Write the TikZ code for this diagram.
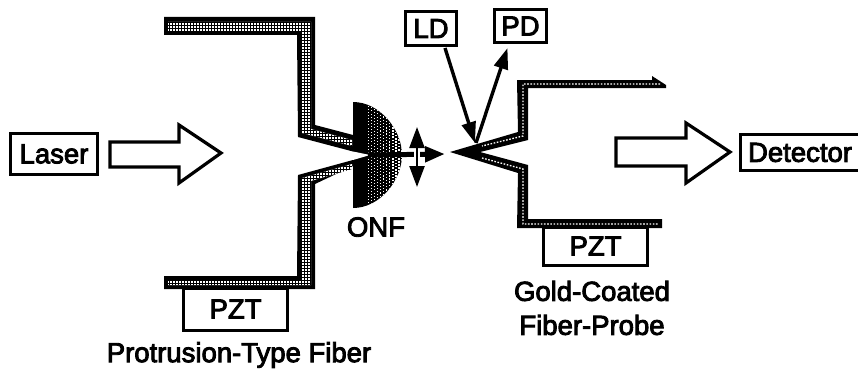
\documentclass[tikz,border=0pt]{standalone}
\usepackage{fontspec}
\setmainfont{Liberation Sans}[RawFeature={embolden=3.2}]
\usetikzlibrary{arrows.meta}
\tikzset{
 x=1pt,y=-1pt,
 box/.style={draw=black,line width=3pt,fill=white,inner sep=0pt,font=\fontsize{27.5}{27.5}\selectfont,text=black},
 lbl/.style={inner sep=0pt,font=\fontsize{27.5}{27.5}\selectfont,text=black},
 bigarrow/.style={draw=black,line width=3.2pt,fill=white,line join=miter},
 wall/.style={fill=black},
 thin arrow/.style={draw=black,line width=3.4pt,-{Triangle[length=21pt,width=14pt]}}
}
\begin{document}
\begin{tikzpicture}
\useasboundingbox (0,0) rectangle (858,369);
% PZT behind the walls
\node[box,minimum width=104pt,minimum height=42pt] (pztl) at (235.5,309) {PZT};
\node[box,minimum width=104pt,minimum height=38pt] (pztr) at (595.5,246) {PZT};
% lens
\begin{scope}
 \clip (353,102) .. controls (380,102) and (402,130) .. (402,155) .. controls (402,180) and (380,208) .. (353,208) -- cycle;
 \fill[black] (353,100) rectangle (405,210);
 \foreach \i in {0,...,12}{
  \foreach \j in {0,...,36}{
   \pgfmathsetmacro{\xx}{368+\i*3.1}
   \pgfmathsetmacro{\yy}{100+\j*3.1+mod(\i,2)*1.55}
   \pgfmathsetmacro{\ss}{0.35+\i*0.055}
   \fill[white] (\xx-\ss,\yy-\ss) rectangle (\xx+\ss,\yy+\ss);
  }
 }
\end{scope}
% left fiber walls
\fill[wall] (164,17)--(315,17)--(315,125)--(353,135)--(370,155)--(353,151.5)--(298,137)--(297,35)--(164,35)--cycle;
\fill[wall] (164,276)--(297,276)--(298,175)--(353,160)--(370,155)--(353,166)--(315,184)--(315,289)--(164,289)--cycle;
\fill[white] (353,151.5)--(370,155)--(353,160)--cycle;
% hatched core
\def\hatch{\foreach \i in {0,...,68}{\draw[black,line width=.8pt] (160+\i*3,10)--(160+\i*3,300);}
 \foreach \j in {0,...,97}{\draw[black,line width=.8pt] (160,10+\j*3)--(360,10+\j*3);}}
\begin{scope}
 \clip (168,22)--(311,22)--(311,129)--(352,140)--(352,146)--(302,133)--(302,31)--(168,31)--cycle;
 \fill[white] (160,10) rectangle (360,300);
 \hatch
\end{scope}
\begin{scope}
 \clip (168,280)--(302,280)--(302,178)--(352,164)--(352,169)--(311,181)--(311,285)--(168,285)--cycle;
 \fill[white] (160,10) rectangle (360,300);
 \hatch
\end{scope}
% right probe
\fill[wall] (450,152)--(518,132)--(517,80)--(652,80)--(652,76)--(666,85)--(666,88)--(528,88)--(528,140)--(480,152)--(528,165)--(528,219)--(662,219)--(662,228)--(517,228)--(518,173)--cycle;
\draw[white,line width=1.3pt,dash pattern=on 1.6pt off 1.6pt] (660,84)--(523,84)--(523,136)--(482,146);
\draw[white,line width=1.3pt,dash pattern=on 1.6pt off 1.6pt] (482,158)--(523,169)--(523,224)--(658,224);
% focus arrows
\coordinate (hs) at (368,155);
\coordinate (he) at (445,154);
\coordinate (vt) at (417,127);
\coordinate (vb) at (417,187);
\draw[line width=5pt,-{Triangle[length=20pt,width=15pt]},draw=black] (hs)--(he);
\draw[white,line width=6pt] (417,151)--(417,159);
\draw[line width=2.4pt,{Triangle[length=21pt,width=15pt]}-{Triangle[length=21pt,width=15pt]}] (vt)--(vb);
% boxes
\node[box,minimum width=87pt,minimum height=41pt] (laser) at (54,154) {Laser};
\node[box,minimum width=119.5pt,minimum height=36pt] (det) at (800,152.5) {Detector};
\node[box,minimum width=51pt,minimum height=34pt] (ld) at (431,28.5) {LD};
\node[box,minimum width=52pt,minimum height=33pt] (pd) at (520.5,26) {PD};
\coordinate (tipin) at (475,143);
\coordinate (tipout) at (476,143);
\draw[thin arrow] ([xshift=14pt,yshift=-1pt]ld.south) -- (tipin);
\draw[thin arrow] (tipout) -- ([xshift=-13pt,yshift=-4pt]pd.south);
% big arrows
\draw[bigarrow] (110,142)--(179,142)--(179,125)--(221,153)--(179,183)--(179,167)--(110,167)--cycle;
\draw[bigarrow] (616,138)--(686,138)--(686,123)--(730,152)--(686,183)--(686,166)--(616,166)--cycle;
% labels
\node[lbl] (onf) at (376,227) {ONF};
\node[lbl] (prot) at (239,355) {Protrusion-Type Fiber};
\node[lbl] (gold) at (592,291) {Gold-Coated};
\node[lbl] (fpr) at (592,325) {Fiber-Probe};
\end{tikzpicture}
\end{document}
